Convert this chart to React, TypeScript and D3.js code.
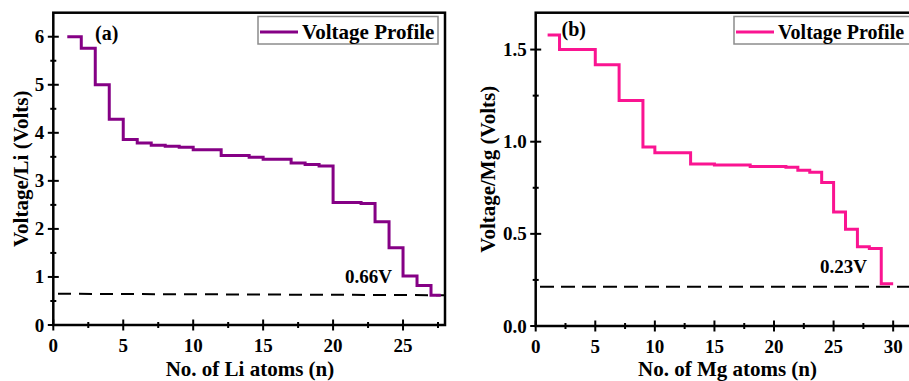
import React from "react";
import * as d3 from "d3";

// Panel (a): Li
const liN = [1, 2, 3, 4, 5, 6, 7, 8, 9, 10, 11, 12, 13, 14, 15, 16, 17, 18, 19, 20, 21, 22, 23, 24, 25, 26, 27, 27.7];
const liV = [6.0, 5.76, 5.0, 4.28, 3.86, 3.79, 3.74, 3.72, 3.7, 3.65, 3.65, 3.53, 3.53, 3.49, 3.45, 3.45, 3.37, 3.34, 3.31, 2.55, 2.55, 2.53, 2.15, 1.61, 1.02, 0.82, 0.62, 0.62];
const liCut = [0.65, 0.62]; // dashed reference, left/right
const liXTicks = [0, 5, 10, 15, 20, 25];
const liYTicks = [0, 1, 2, 3, 4, 5, 6];

// Panel (b): Mg
const mgN = [1, 2, 3, 4, 5, 6, 7, 8, 9, 10, 11, 12, 13, 14, 15, 16, 17, 18, 19, 20, 21, 22, 23, 24, 25, 26, 27, 28, 29, 30];
const mgV = [1.579, 1.5, 1.5, 1.5, 1.418, 1.418, 1.224, 1.224, 0.971, 0.94, 0.94, 0.94, 0.879, 0.879, 0.873, 0.873, 0.873, 0.866, 0.866, 0.866, 0.862, 0.845, 0.834, 0.778, 0.619, 0.525, 0.43, 0.42, 0.229, 0.229];
const mgCut = [0.213, 0.213];
const mgXTicks = [0, 5, 10, 15, 20, 25, 30];
const mgYTicks = [0, 0.5, 1.0, 1.5];

const FONT = "'Liberation Serif', 'Times New Roman', serif";

type PanelProps = {
  left: number;
  right: number;
  top: number;
  bottom: number;
  xMax: number;
  yMax: number;
  xs: number[];
  ys: number[];
  xTicks: number[];
  yTicks: number[];
  xMinorStep: number;
  yMinorStep: number;
  yFmt: (v: number) => string;
  color: string;
  cut: number[];
  cutX0: number;
  dash: string;
  cutLabel: string;
  cutLabelPos: [number, number];
  panelLabel: string;
  panelLabelPos: [number, number];
  legendX: number;
  legendW: number;
  legendFont: number;
  xTitle: string;
  yTitle: string;
  yTitleX: number;
  xTitleX: number;
};

function Panel(p: PanelProps) {
  const x = d3.scaleLinear().domain([0, p.xMax]).range([p.left, p.right]);
  const y = d3.scaleLinear().domain([0, p.yMax]).range([p.bottom, p.top]);
  const pts: [number, number][] = p.xs.map((v, i) => [v, p.ys[i]]);
  const line = d3
    .line<[number, number]>()
    .x((d) => x(d[0]))
    .y((d) => y(d[1]))
    .curve(d3.curveStepAfter);
  const xMinor = d3.range(p.xMinorStep, p.xMax, p.xMinorStep * 2);
  const yMinor = d3.range(p.yMinorStep, p.yMax, p.yMinorStep * 2);
  const midY = (p.top + p.bottom) / 2;
  return (
    <g>
      {/* frame */}
      <rect x={p.left} y={p.top} width={p.right - p.left} height={p.bottom - p.top} fill="none" stroke="#000" strokeWidth={2.5} />
      {/* dashed reference */}
      <line x1={p.cutX0} x2={p.right} y1={y(p.cut[0])} y2={y(p.cut[1])} stroke="#000" strokeWidth={2} strokeDasharray={p.dash} />
      {/* data */}
      <path d={line(pts) || ""} fill="none" stroke={p.color} strokeWidth={3} />
      {/* x ticks */}
      {p.xTicks.map((t) => (
        <g key={"xt" + t}>
          <line x1={x(t)} x2={x(t)} y1={p.bottom - 5.5} y2={p.bottom + 5.5} stroke="#000" strokeWidth={2} />
          <text x={x(t)} y={p.bottom + 27} textAnchor="middle" fontFamily={FONT} fontWeight="bold" fontSize={19}>
            {t}
          </text>
        </g>
      ))}
      {xMinor.map((t) => (
        <line key={"xm" + t} x1={x(t)} x2={x(t)} y1={p.bottom - 3} y2={p.bottom + 3} stroke="#000" strokeWidth={2} />
      ))}
      {/* y ticks */}
      {p.yTicks.map((t) => (
        <g key={"yt" + t}>
          <line x1={p.left - 5.5} x2={p.left + 5.5} y1={y(t)} y2={y(t)} stroke="#000" strokeWidth={2} />
          <text x={p.left - 9} y={y(t) + 6.5} textAnchor="end" fontFamily={FONT} fontWeight="bold" fontSize={19}>
            {p.yFmt(t)}
          </text>
        </g>
      ))}
      {yMinor.map((t) => (
        <line key={"ym" + t} x1={p.left - 3} x2={p.left + 3} y1={y(t)} y2={y(t)} stroke="#000" strokeWidth={2} />
      ))}
      {/* legend */}
      <rect x={p.legendX} y={16.5} width={p.legendW} height={27.5} fill="#fff" stroke="#8c8c8c" strokeWidth={1.5} />
      <line x1={p.legendX + 2} x2={p.legendX + 40} y1={32} y2={32} stroke={p.color} strokeWidth={3} />
      <text x={p.legendX + 44} y={39} fontFamily={FONT} fontWeight="bold" fontSize={p.legendFont}>
        Voltage Profile
      </text>
      {/* annotations */}
      <text x={p.panelLabelPos[0]} y={p.panelLabelPos[1]} fontFamily={FONT} fontWeight="bold" fontSize={20}>
        {p.panelLabel}
      </text>
      <text x={p.cutLabelPos[0]} y={p.cutLabelPos[1]} fontFamily={FONT} fontWeight="bold" fontSize={19}>
        {p.cutLabel}
      </text>
      {/* titles */}
      <text x={p.xTitleX} y={376} textAnchor="middle" fontFamily={FONT} fontWeight="bold" fontSize={21}>
        {p.xTitle}
      </text>
      <text
        transform={`translate(${p.yTitleX},${midY}) rotate(-90)`}
        textAnchor="middle"
        fontFamily={FONT}
        fontWeight="bold"
        fontSize={21}
      >
        {p.yTitle}
      </text>
    </g>
  );
}

export default function App() {
  return (
    <svg
      width={909}
      height={381}
      style={{ position: "absolute", left: 0, top: 0, background: "#fff" }}
    >
      <rect x={0} y={0} width={909} height={381} fill="#fff" />
      <Panel
        left={53.3}
        right={445}
        top={12.7}
        bottom={325}
        xMax={28}
        yMax={6.5}
        xs={liN}
        ys={liV}
        xTicks={liXTicks}
        yTicks={liYTicks}
        xMinorStep={2.5}
        yMinorStep={0.5}
        yFmt={(v) => String(v)}
        color="#850085"
        cut={liCut}
        cutX0={58}
        dash="13,8"
        cutLabel="0.66V"
        cutLabelPos={[345, 283]}
        panelLabel="(a)"
        panelLabelPos={[95, 40]}
        legendX={258}
        legendW={180}
        legendFont={21}
        xTitle="No. of Li atoms (n)"
        yTitle="Voltage/Li (Volts)"
        yTitleX={28}
        xTitleX={250}
      />
      <Panel
        left={535.7}
        right={917}
        top={12.7}
        bottom={326}
        xMax={32}
        yMax={1.7}
        xs={mgN}
        ys={mgV}
        xTicks={mgXTicks}
        yTicks={mgYTicks}
        xMinorStep={2.5}
        yMinorStep={0.25}
        yFmt={(v) => v.toFixed(1)}
        color="#FA1491"
        cut={mgCut}
        cutX0={540}
        dash="14,7"
        cutLabel="0.23V"
        cutLabelPos={[820, 273]}
        panelLabel="(b)"
        panelLabelPos={[561.5, 36]}
        legendX={734}
        legendW={182}
        legendFont={20}
        xTitle="No. of Mg atoms (n)"
        yTitle="Voltage/Mg (Volts)"
        yTitleX={495}
        xTitleX={727.5}
      />
    </svg>
  );
}
